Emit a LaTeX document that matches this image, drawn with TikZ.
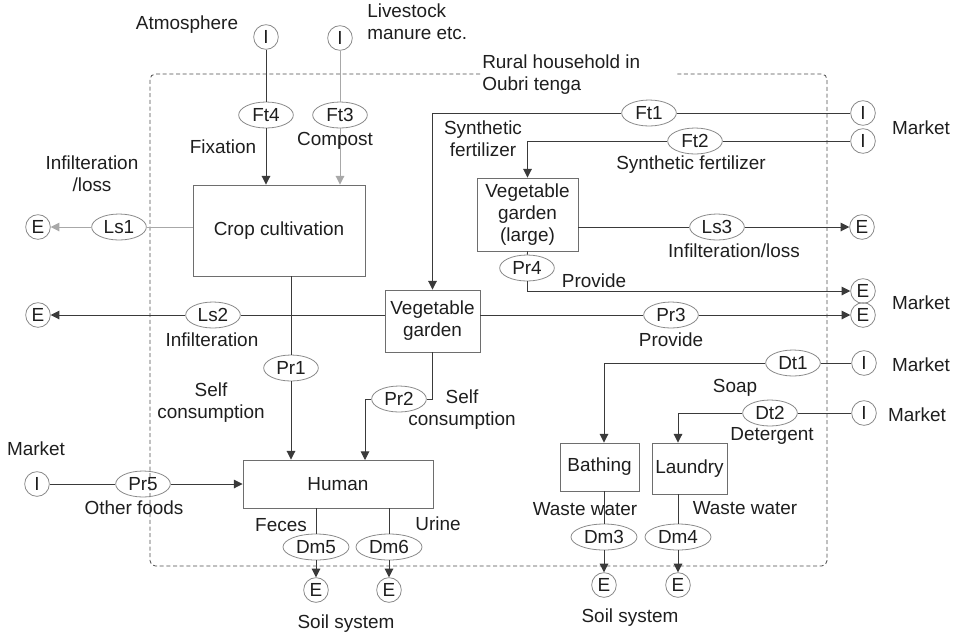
\documentclass[tikz,border=0pt]{standalone}
\usepackage{fontspec}
\setmainfont{Liberation Sans}
\usetikzlibrary{shapes.geometric,arrows.meta}
\definecolor{linec}{HTML}{3A3A3A}
\definecolor{lightc}{HTML}{A8A8A8}
\definecolor{ellc}{HTML}{8A8A8A}
\definecolor{boxc}{HTML}{6E6E6E}
\definecolor{txtc}{HTML}{1E1E1E}
\tikzset{
  every node/.style={text=txtc, font=\fontsize{14.2}{16.5}\selectfont},
  flowline/.style={draw=linec, line width=0.7pt},
  flow/.style={flowline, -{Triangle[length=6.5pt,width=6.5pt]}},
  lightline/.style={draw=lightc, line width=0.7pt},
  lightflow/.style={lightline, -{Triangle[length=6.5pt,width=6.5pt,fill=lightc]}},
  proc/.style={draw=ellc, ellipse, line width=0.6pt, inner sep=0pt,
    minimum width=41pt, minimum height=19.5pt},
  procw/.style={proc, minimum width=49.5pt},
  term/.style={draw=ellc, circle, line width=0.6pt, inner sep=0pt,
    minimum size=18.5pt},
  stage/.style={draw=boxc, rectangle, line width=0.7pt, inner sep=0pt, align=center},
  lbl/.style={align=center, inner sep=0pt},
  lbll/.style={align=left, inner sep=0pt, anchor=west},
}
\begin{document}
\begin{tikzpicture}[x=0.75pt, y=-0.75pt]
\useasboundingbox (0,0) rectangle (953,637);

% household system boundary (open at the title)
\draw[draw=black!70, line width=0.6pt, dash pattern=on 3pt off 2pt, rounded corners=4pt]
  (480,74) -- (150,74) -- (150,566) -- (827,566) -- (827,74) -- (675,74);
\node[lbll] (title) at (482,75) {Rural household in\\Oubri tenga};

% stages
\node[stage, minimum width=129pt, minimum height=68.25pt] (crop) at (279,230.5) {Crop cultivation};
\node[stage, minimum width=71.25pt, minimum height=46.5pt] (veg) at (432.5,321) {Vegetable\\garden};
\node[stage, minimum width=75.75pt, minimum height=54.75pt] (vgl) at (527.5,214.5) {Vegetable\\garden\\(large)};
\node[stage, minimum width=142.5pt, minimum height=36pt] (human) at (338,484) {Human};
\node[stage, minimum width=59.25pt, minimum height=36pt] (bath) at (599.5,467) {Bathing};
\node[stage, minimum width=56.25pt, minimum height=38.25pt] (laun) at (689.5,468.5) {Laundry};

% imports and exports
\node[term] (iAtm) at (266,37) {I};
\node[term] (iLive) at (340,38) {I};
\node[term] (iFt1) at (863,113) {I};
\node[term] (iFt2) at (863,141) {I};
\node[term] (iDt1) at (864,363) {I};
\node[term] (iDt2) at (864,413) {I};
\node[term] (iMkt) at (37,484) {I};
\node[term] (eLs1) at (38,227) {E};
\node[term] (eLs2) at (38,315) {E};
\node[term] (eLs3) at (862,227) {E};
\node[term] (ePr4) at (863,291) {E};
\node[term] (ePr3) at (863,315) {E};
\node[term] (eFe) at (316,590) {E};
\node[term] (eUr) at (389,590) {E};
\node[term] (eBa) at (604,585) {E};
\node[term] (eLa) at (678,585) {E};

% flow processes
\node[proc] (ft4) at (266,115) {Ft4};
\node[proc] (ft3) at (340,115) {Ft3};
\node[proc] (ft1) at (649,113) {Ft1};
\node[proc] (ft2) at (695,141) {Ft2};
\node[proc] (ls1) at (119,227) {Ls1};
\node[proc] (ls2) at (213,315) {Ls2};
\node[proc] (ls3) at (717,227) {Ls3};
\node[proc] (pr1) at (291,368) {Pr1};
\node[proc] (pr2) at (399,399) {Pr2};
\node[proc] (pr3) at (671,315) {Pr3};
\node[proc] (pr4) at (527,268) {Pr4};
\node[proc] (pr5) at (143,484) {Pr5};
\node[proc] (dt1) at (793,363) {Dt1};
\node[proc] (dt2) at (770,413) {Dt2};
\node[procw] (dm3) at (604,537) {Dm3};
\node[procw] (dm4) at (678,537) {Dm4};
\node[procw] (dm5) at (316,547) {Dm5};
\node[procw] (dm6) at (389,547) {Dm6};

% connectors
\draw[flowline] (iAtm) -- (ft4);
\draw[flow] (ft4) -- (ft4 |- crop.north);
\draw[lightline] (iLive) -- (ft3);
\draw[lightflow] (ft3) -- (ft3 |- crop.north);
\draw[lightline] (crop.west |- ls1) -- (ls1);
\draw[lightflow] (ls1) -- (eLs1);
\draw[flowline] (veg.west |- ls2) -- (ls2);
\draw[flow] (ls2) -- (eLs2);
\draw[flowline] (pr1 |- crop.south) -- (pr1);
\draw[flow] (pr1) -- (pr1 |- human.north);
\coordinate (hIn) at (365,460);
\draw[flowline] (veg.south) |- (pr2.east);
\draw[flow] (pr2.west) -| (hIn);
\draw[flowline] (iMkt) -- (pr5);
\draw[flow] (pr5) -- (human.west |- pr5);
\draw[flowline] (dm5 |- human.south) -- (dm5);
\draw[flow] (dm5) -- (eFe);
\draw[flowline] (dm6 |- human.south) -- (dm6);
\draw[flow] (dm6) -- (eUr);
\draw[flowline] (iFt1) -- (ft1);
\draw[flow] (ft1.west) -| (veg.north);
\draw[flowline] (iFt2) -- (ft2);
\draw[flow] (ft2.west) -| (vgl.north);
\draw[flowline] (vgl.east |- ls3) -- (ls3);
\draw[flow] (ls3) -- (eLs3);
\draw[flowline] (vgl.south) -- (pr4);
\draw[flow] (pr4.south) |- (ePr4.west);
\draw[flowline] (veg.east |- pr3) -- (pr3);
\draw[flow] (pr3) -- (ePr3);
\draw[flowline] (iDt1) -- (dt1);
\draw[flow] (dt1.west) -| (bath.north -| dm3);
\draw[flowline] (iDt2) -- (dt2);
\draw[flow] (dt2.west) -| (laun.north -| dm4);
\draw[flowline] (bath.south -| dm3) -- (dm3);
\draw[flow] (dm3) -- (eBa);
\draw[flowline] (laun.south -| dm4) -- (dm4);
\draw[flow] (dm4) -- (eLa);

% labels
\node[lbl] (tAtm) at (187,25) {Atmosphere};
\node[lbll] (tLive) at (367,22) {Livestock\\manure etc.};
\node[lbl] (tFix) at (223,147) {Fixation};
\node[lbl] (tComp) at (335,141) {Compost};
\node[lbl] (tLs1) at (92,174) {Infilteration\\/loss};
\node[lbl] (tLs2) at (212,340) {Infilteration};
\node[lbl] (tSc1) at (211,403) {Self\\consumption};
\node[lbl] (tSc2) at (462,410) {Self\\consumption};
\node[lbl] (tMk5) at (36,449) {Market};
\node[lbl] (tOther) at (134,508) {Other foods};
\node[lbl] (tFe) at (281,525) {Feces};
\node[lbl] (tUr) at (438,524) {Urine};
\node[lbl] (tSoil1) at (346,624) {Soil system};
\node[lbl] (tSyn1) at (483,139) {Synthetic\\fertilizer};
\node[lbl] (tSyn2) at (691,165) {Synthetic fertilizer};
\node[lbl] (tLs3) at (734,251) {Infilteration/loss};
\node[lbl] (tPr4) at (594,281) {Provide};
\node[lbl] (tPr3) at (671,340) {Provide};
\node[lbl] (tMk1) at (921,128) {Market};
\node[lbl] (tMk2) at (921,303) {Market};
\node[lbl] (tMk3) at (921,365) {Market};
\node[lbl] (tMk4) at (917,415) {Market};
\node[lbl] (tSoap) at (735,388) {Soap};
\node[lbl] (tDet) at (772,436) {Detergent};
\node[lbl] (tWw1) at (585,509) {Waste water};
\node[lbl] (tWw2) at (745,508) {Waste water};
\node[lbl] (tSoil2) at (630,618) {Soil system};
\end{tikzpicture}
\end{document}
